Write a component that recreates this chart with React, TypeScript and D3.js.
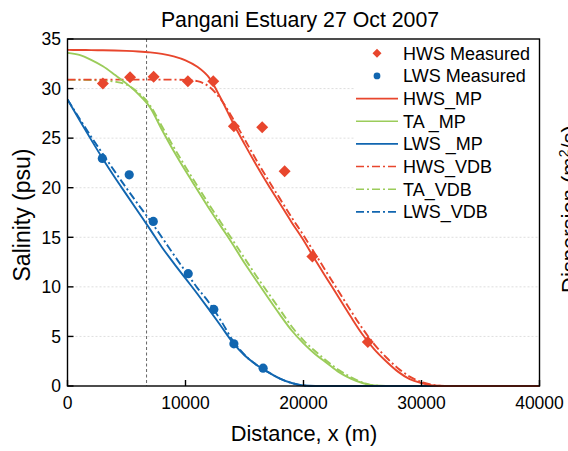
import React from "react";
import * as d3 from "d3";

// distance grid (m) shared by all model curves
const distance = [
  0, 1000, 2000, 3000, 4000, 5000, 6000, 7000, 8000, 9000, 10000, 11000, 12000,
  13000, 14000, 15000, 16000, 17000, 18000, 19000, 20000, 21000, 22000, 23000,
  24000, 25000, 26000, 27000, 28000, 29000, 30000, 31000, 32000, 40000,
];

const hwsMP = [
  33.9, 33.89, 33.88, 33.86, 33.84, 33.8, 33.74, 33.65, 33.5, 33.25, 32.85,
  32.2, 31.1, 29.0, 26.6, 24.4, 22.3, 20.3, 18.4, 16.5, 14.7, 12.7, 10.8, 8.9,
  7.0, 5.2, 3.7, 2.5, 1.45, 0.7, 0.3, 0.05, 0, 0,
];
const taMP = [
  33.6, 33.4, 32.9, 32.25, 31.4, 30.5, 29.45, 28.1, 25.85, 23.7, 21.7, 19.8,
  17.9, 16.1, 14.3, 12.4, 10.65, 8.9, 7.2, 5.6, 4.3, 3.2, 2.3, 1.4, 0.75, 0.3,
  0.05, 0, 0, 0, 0, 0, 0, 0,
];
const lwsMP = [
  28.9, 26.85, 24.85, 22.9, 21.05, 19.3, 17.55, 15.8, 14.0, 12.4, 10.85, 9.3,
  7.7, 6.05, 4.4, 3.1, 2.15, 1.4, 0.75, 0.3, 0.05, 0, 0, 0, 0, 0, 0, 0, 0, 0, 0,
  0, 0, 0,
];
const hwsVDB = [
  30.9, 30.9, 30.9, 30.9, 30.9, 30.9, 30.9, 30.9, 30.9, 30.9, 30.88, 30.75,
  30.2, 28.9, 27.0, 24.9, 22.8, 20.8, 18.9, 17.0, 15.2, 13.3, 11.4, 9.5, 7.6,
  5.8, 4.2, 2.9, 1.8, 0.95, 0.4, 0.1, 0, 0,
];
const taVDB = [
  30.88, 30.88, 30.86, 30.8, 30.7, 30.4, 29.6, 28.3, 26.2, 24.1, 22.1, 20.2,
  18.3, 16.5, 14.7, 12.9, 11.1, 9.4, 7.7, 6.0, 4.6, 3.5, 2.5, 1.6, 0.9, 0.35,
  0.05, 0, 0, 0, 0, 0, 0, 0,
];
const lwsVDB = [
  28.9, 27.0, 25.15, 23.4, 21.65, 19.95, 18.3, 16.7, 15.0, 13.25, 11.55, 9.9,
  8.4, 6.6, 4.6, 3.15, 2.15, 1.4, 0.75, 0.3, 0.05, 0, 0, 0, 0, 0, 0, 0, 0, 0, 0,
  0, 0, 0,
];

// measured salinity
const hwsMeasuredX = [3000, 5300, 7300, 10200, 12350, 14100, 16500, 18400, 20750, 25450];
const hwsMeasuredY = [30.5, 31.15, 31.2, 30.75, 30.75, 26.2, 26.1, 21.65, 13.05, 4.45];
const lwsMeasuredX = [2950, 5230, 7270, 10230, 12400, 14100, 16580];
const lwsMeasuredY = [22.95, 21.3, 16.6, 11.33, 7.72, 4.25, 1.8];

const xTicks = [0, 10000, 20000, 30000, 40000];
const yTicks = [0, 5, 10, 15, 20, 25, 30, 35];
const refLineX = 6700;

const RED = "#e8462d";
const GREEN = "#9bcc5a";
const BLUE = "#1166b0";
const DASHDOT = "8,3,2,3";
const FONT = "'Liberation Sans', Arial, sans-serif";

const W = 568;
const H = 451;
const left = 67.5;
const right = 539.5;
const top = 39;
const bottom = 386;

export default function App() {
  const x = d3.scaleLinear().domain([0, 40000]).range([left, right]);
  const y = d3.scaleLinear().domain([0, 35]).range([bottom, top]);

  const line = d3
    .line<number>()
    .x((_, i) => x(distance[i]))
    .y((d) => y(d))
    .curve(d3.curveMonotoneX);

  const curves = [
    { name: "TA_VDB", values: taVDB, color: GREEN, dash: DASHDOT },
    { name: "LWS_VDB", values: lwsVDB, color: BLUE, dash: DASHDOT },
    { name: "HWS_VDB", values: hwsVDB, color: RED, dash: DASHDOT },
    { name: "TA _MP", values: taMP, color: GREEN, dash: undefined },
    { name: "LWS _MP", values: lwsMP, color: BLUE, dash: undefined },
    { name: "HWS_MP", values: hwsMP, color: RED, dash: undefined },
  ];

  const legendLines = [
    { name: "HWS_MP", color: RED, dash: undefined },
    { name: "TA _MP", color: GREEN, dash: undefined },
    { name: "LWS _MP", color: BLUE, dash: undefined },
    { name: "HWS_VDB", color: RED, dash: DASHDOT },
    { name: "TA_VDB", color: GREEN, dash: DASHDOT },
    { name: "LWS_VDB", color: BLUE, dash: DASHDOT },
  ];

  const diamond = (cx: number, cy: number, r: number) =>
    `M${cx},${cy - r}L${cx + r},${cy}L${cx},${cy + r}L${cx - r},${cy}Z`;

  const rowY = (i: number) => 53.3 + i * 22.65;

  return (
    <svg
      width={W}
      height={H}
      style={{ position: "absolute", left: 0, top: 0, background: "#fff" }}
      fontFamily={FONT}
    >
      <defs>
        <clipPath id="plot">
          <rect x={left} y={top} width={right - left} height={bottom - top + 2} />
        </clipPath>
      </defs>
      <rect width={W} height={H} fill="#fff" />

      {/* grid */}
      {yTicks
        .filter((t) => t > 0 && t < 35)
        .map((t) => (
          <line
            key={t}
            x1={left}
            x2={right}
            y1={y(t)}
            y2={y(t)}
            stroke="#d6d6d6"
            strokeWidth={0.8}
            strokeDasharray="2,2"
          />
        ))}

      <line
        x1={x(refLineX)}
        x2={x(refLineX)}
        y1={top}
        y2={bottom}
        stroke="#555"
        strokeWidth={0.9}
        strokeDasharray="3,2.5"
      />

      {/* legend background */}
      <rect x={354} y={41} width={184} height={184} fill="#fff" />

      <g clipPath="url(#plot)">
        {curves.map((c) => (
          <path
            key={c.name}
            d={line(c.values) || ""}
            fill="none"
            stroke={c.color}
            strokeWidth={1.9}
            strokeDasharray={c.dash}
          />
        ))}
        {hwsMeasuredX.map((d, i) => (
          <path key={"h" + i} d={diamond(x(d), y(hwsMeasuredY[i]), 6)} fill={RED} />
        ))}
        {lwsMeasuredX.map((d, i) => (
          <circle key={"l" + i} cx={x(d)} cy={y(lwsMeasuredY[i])} r={4.6} fill={BLUE} />
        ))}
      </g>

      {/* frame */}
      <rect
        x={left}
        y={top}
        width={right - left}
        height={bottom - top}
        fill="none"
        stroke="#000"
        strokeWidth={1.4}
      />

      {/* ticks */}
      {yTicks.map((t) => (
        <g key={"y" + t}>
          <line x1={left} x2={left + 6} y1={y(t)} y2={y(t)} stroke="#000" strokeWidth={1.4} />
          <text x={61} y={y(t)} dy="0.36em" textAnchor="end" fontSize={17.5}>
            {t}
          </text>
        </g>
      ))}
      {xTicks.map((t) => (
        <g key={"x" + t}>
          <line x1={x(t)} x2={x(t)} y1={bottom} y2={bottom - 6} stroke="#000" strokeWidth={1.4} />
          <text x={x(t)} y={408.5} textAnchor="middle" fontSize={17.5}>
            {t}
          </text>
        </g>
      ))}

      {/* legend */}
      <path d={diamond(377, rowY(0), 4.5)} fill={RED} />
      <text x={403} y={rowY(0)} dy="0.36em" fontSize={18}>
        HWS Measured
      </text>
      <circle cx={377} cy={rowY(1)} r={3.4} fill={BLUE} />
      <text x={403} y={rowY(1)} dy="0.36em" fontSize={18}>
        LWS Measured
      </text>
      {legendLines.map((l, i) => (
        <g key={l.name}>
          <line
            x1={356}
            x2={398}
            y1={rowY(i + 2)}
            y2={rowY(i + 2)}
            stroke={l.color}
            strokeWidth={1.6}
            strokeDasharray={l.dash}
          />
          <text x={403} y={rowY(i + 2)} dy="0.36em" fontSize={18}>
            {l.name}
          </text>
        </g>
      ))}

      {/* titles */}
      <text x={300} y={27} textAnchor="middle" fontSize={21.3}>
        Pangani Estuary 27 Oct 2007
      </text>
      <text x={304} y={441} textAnchor="middle" fontSize={21.8}>
        Distance, x (m)
      </text>
      <text
        transform={`translate(30,215) rotate(-90)`}
        textAnchor="middle"
        fontSize={23}
      >
        Salinity (psu)
      </text>
      <text transform={`translate(576.5,293) rotate(-90)`} fontSize={22}>
        Dispersion (m
        <tspan dy={-8} fontSize={14}>
          2
        </tspan>
        <tspan dy={8}>/s)</tspan>
      </text>
    </svg>
  );
}
